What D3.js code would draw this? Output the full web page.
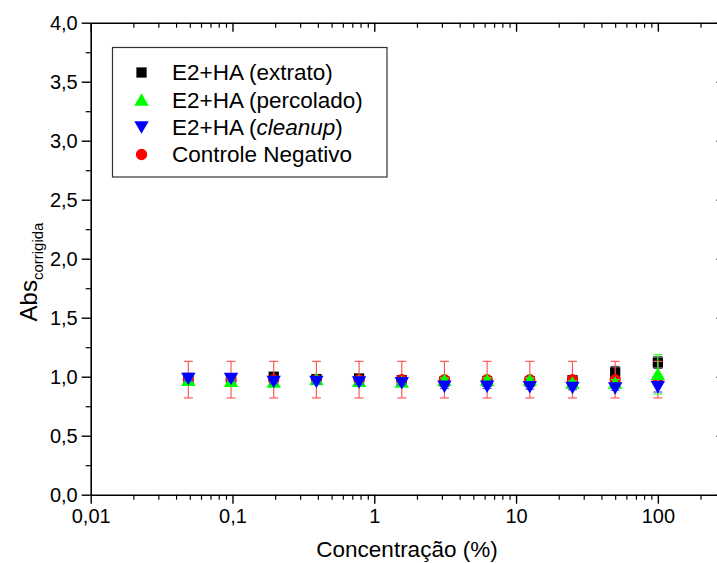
<!DOCTYPE html>
<html><head><meta charset="utf-8">
<script src="https://cdn.jsdelivr.net/npm/d3@7"></script>
<style>
body{margin:0;background:#fff;}
svg text{font-family:"Liberation Sans",Arial,sans-serif;fill:#000;}
</style>
</head><body>
<svg id="chart" width="717" height="563"></svg>
<script>
// ---- data ----
const concentrations = [0.048828125, 0.09765625, 0.1953125, 0.390625, 0.78125, 1.5625, 3.125, 6.25, 12.5, 25, 50, 100];
const extrato      = [0.99, 0.98, 1.00, 0.98, 0.985, 0.97, 0.96, 0.96, 0.96, 0.97, 1.037, 1.12];
const extratoErr   = [0.02, 0.02, 0.02, 0.02, 0.02, 0.02, 0.02, 0.02, 0.02, 0.02, 0.05, 0.05];
const percolado    = [0.97, 0.96, 0.955, 0.975, 0.96, 0.955, 0.97, 0.97, 0.97, 0.945, 0.945, 1.02];
const percoladoErr = [0.02, 0.02, 0.02, 0.02, 0.02, 0.02, 0.02, 0.02, 0.02, 0.02, 0.03, 0.167];
const cleanup      = [0.985, 0.985, 0.96, 0.96, 0.955, 0.95, 0.92, 0.92, 0.915, 0.91, 0.905, 0.915];
const cleanupErr   = [0.02, 0.02, 0.02, 0.02, 0.02, 0.02, 0.02, 0.02, 0.02, 0.02, 0.02, 0.045];
const controle     = [0.975, 0.975, 0.975, 0.975, 0.975, 0.975, 0.975, 0.975, 0.975, 0.975, 0.975, 0.975];
const controleErr  = [0.155, 0.155, 0.155, 0.155, 0.155, 0.155, 0.155, 0.155, 0.155, 0.155, 0.155, 0.155];
const xTickValues = [0.01, 0.1, 1, 10, 100];
const xTickLabels = ["0,01", "0,1", "1", "10", "100"];
const yTickValues = [0, 0.5, 1, 1.5, 2, 2.5, 3, 3.5, 4];
const yTickLabels = ["0,0", "0,5", "1,0", "1,5", "2,0", "2,5", "3,0", "3,5", "4,0"];
const seriesNames = ["E2+HA (extrato)", "E2+HA (percolado)", "E2+HA (cleanup)", "Controle Negativo"];

// ---- layout ----
const L = 90.7, R = 725.5, T = 22.7, B = 494.7;
const svg = d3.select("#chart");
const x = d3.scaleLog().domain([0.01, 300]).range([L, R]);
const y = d3.scaleLinear().domain([0, 4]).range([B, T]);

const minorX = [];
for (let e = -2; e <= 2; e++) for (let m = 2; m <= 9; m++) { const v = m * Math.pow(10, e); if (v <= 300) minorX.push(v); }
const minorY = d3.range(0.25, 4, 0.5);

function styleAxis(g) {
  g.select(".domain").attr("stroke", "#000").attr("stroke-width", 1.6);
  g.selectAll(".tick line").attr("stroke", "#000").attr("stroke-width", 1.4);
  g.selectAll("text").style("font-size", "20px").style("font-family", "'Liberation Sans', Arial, sans-serif");
}

// bottom: major
const fmtX = d => xTickLabels[xTickValues.indexOf(d)];
const gB = svg.append("g").attr("transform", `translate(0,${B})`)
  .call(d3.axisBottom(x).tickValues(xTickValues).tickFormat(fmtX).tickSize(9).tickSizeOuter(0).tickPadding(5));
styleAxis(gB);
svg.append("g").attr("transform", `translate(0,${B})`)
  .call(d3.axisBottom(x).tickValues(minorX).tickFormat("").tickSize(5).tickSizeOuter(0))
  .call(g => { g.select(".domain").remove(); g.selectAll("line").attr("stroke", "#000").attr("stroke-width", 1.2); });
// top
const gT = svg.append("g").attr("transform", `translate(0,${T})`)
  .call(d3.axisTop(x).tickValues(xTickValues).tickFormat("").tickSize(-9).tickSizeOuter(0));
styleAxis(gT);
svg.append("g").attr("transform", `translate(0,${T})`)
  .call(d3.axisTop(x).tickValues(minorX).tickFormat("").tickSize(-5).tickSizeOuter(0))
  .call(g => { g.select(".domain").remove(); g.selectAll("line").attr("stroke", "#000").attr("stroke-width", 1.2); });
// left
const fmtY = d => yTickLabels[yTickValues.indexOf(d)];
const gL = svg.append("g").attr("transform", `translate(${L},0)`)
  .call(d3.axisLeft(y).tickValues(yTickValues).tickFormat(fmtY).tickSize(9).tickSizeOuter(0).tickPadding(4));
styleAxis(gL);
svg.append("g").attr("transform", `translate(${L},0)`)
  .call(d3.axisLeft(y).tickValues(minorY).tickFormat("").tickSize(5).tickSizeOuter(0))
  .call(g => { g.select(".domain").remove(); g.selectAll("line").attr("stroke", "#000").attr("stroke-width", 1.2); });
// right
const gR = svg.append("g").attr("transform", `translate(${R},0)`)
  .call(d3.axisRight(y).tickValues(yTickValues).tickFormat("").tickSize(-9).tickSizeOuter(0));
styleAxis(gR);
svg.append("g").attr("transform", `translate(${R},0)`)
  .call(d3.axisRight(y).tickValues(minorY).tickFormat("").tickSize(-5).tickSizeOuter(0))
  .call(g => { g.select(".domain").remove(); g.selectAll("line").attr("stroke", "#000").attr("stroke-width", 1.2); });

// axis titles
svg.append("text").attr("x", 407).attr("y", 556.5).attr("text-anchor", "middle")
  .style("font-size", "22.5px").text("Concentração (%)");
const yt = svg.append("text").attr("transform", `translate(37,272) rotate(-90)`)
  .attr("text-anchor", "middle").style("font-size", "24px");
yt.append("tspan").text("Abs");
yt.append("tspan").attr("dy", 6).style("font-size", "15px").text("corrigida");

// ---- series ----
const sym = {
  sq: d3.symbol().type(d3.symbolSquare).size(105),
  up: d3.symbol().type(d3.symbolTriangle).size(90),
  down: d3.symbol().type(d3.symbolTriangle).size(90),
  circ: d3.symbol().type(d3.symbolCircle).size(100)
};
const series = [
  { name: seriesNames[0], vals: extrato, err: extratoErr, color: "#000000", bar: "#555555", shape: "sq", rot: 0 },
  { name: seriesNames[3], vals: controle, err: controleErr, color: "#ff0000", bar: "#ff5a5a", shape: "circ", rot: 0 },
  { name: seriesNames[1], vals: percolado, err: percoladoErr, color: "#00ff00", bar: "#33ff33", shape: "up", rot: 0 },
  { name: seriesNames[2], vals: cleanup, err: cleanupErr, color: "#0000ff", bar: "#4d4dff", shape: "down", rot: 180 }
];
series.forEach(s => {
  const g = svg.append("g");
  const pts = concentrations.map((c, i) => ({ c, v: s.vals[i], e: s.err[i] }));
  const eb = g.selectAll("g.eb").data(pts).join("g").attr("stroke", s.bar).attr("stroke-width", 1.2).attr("fill", "none");
  eb.append("line").attr("x1", d => x(d.c)).attr("x2", d => x(d.c)).attr("y1", d => y(d.v - d.e)).attr("y2", d => y(d.v + d.e));
  eb.append("line").attr("x1", d => x(d.c) - 4.5).attr("x2", d => x(d.c) + 4.5).attr("y1", d => y(d.v - d.e)).attr("y2", d => y(d.v - d.e));
  eb.append("line").attr("x1", d => x(d.c) - 4.5).attr("x2", d => x(d.c) + 4.5).attr("y1", d => y(d.v + d.e)).attr("y2", d => y(d.v + d.e));
  g.selectAll("path.m").data(pts).join("path").attr("class", "m")
    .attr("d", sym[s.shape]).attr("fill", s.color)
    .attr("transform", d => `translate(${x(d.c)},${y(d.v) + (s.shape === "up" ? 1.5 : s.shape === "down" ? -1.5 : 0)}) rotate(${s.rot})`);
});

// ---- legend ----
const lg = svg.append("g");
lg.append("rect").attr("x", 112.5).attr("y", 47.5).attr("width", 274.5).attr("height", 129.5)
  .attr("fill", "#fff").attr("stroke", "#333").attr("stroke-width", 1.2);
const legendItems = [
  { color: "#000000", shape: "sq", rot: 0, parts: [["E2+HA (", false], ["extrato", false], [")", false]] },
  { color: "#00ff00", shape: "up", rot: 0, parts: [["E2+HA (", false], ["percolado", false], [")", false]] },
  { color: "#0000ff", shape: "down", rot: 180, parts: [["E2+HA (", false], ["cleanup", true], [")", false]] },
  { color: "#ff0000", shape: "circ", rot: 0, parts: [["Controle Negativo", false]] }
];
const rowY = [72.5, 100, 127, 154.5];
legendItems.forEach((it, i) => {
  lg.append("path").attr("d", sym[it.shape]).attr("fill", it.color)
    .attr("transform", `translate(141.5,${rowY[i] + (it.shape === "up" ? 1.5 : it.shape === "down" ? -1.5 : 0)}) rotate(${it.rot})`);
  const t = lg.append("text").attr("x", 172).attr("y", rowY[i] + 7.5).style("font-size", "22.5px");
  it.parts.forEach(p => t.append("tspan").style("font-style", p[1] ? "italic" : "normal").text(p[0]));
});
</script>
</body></html>
